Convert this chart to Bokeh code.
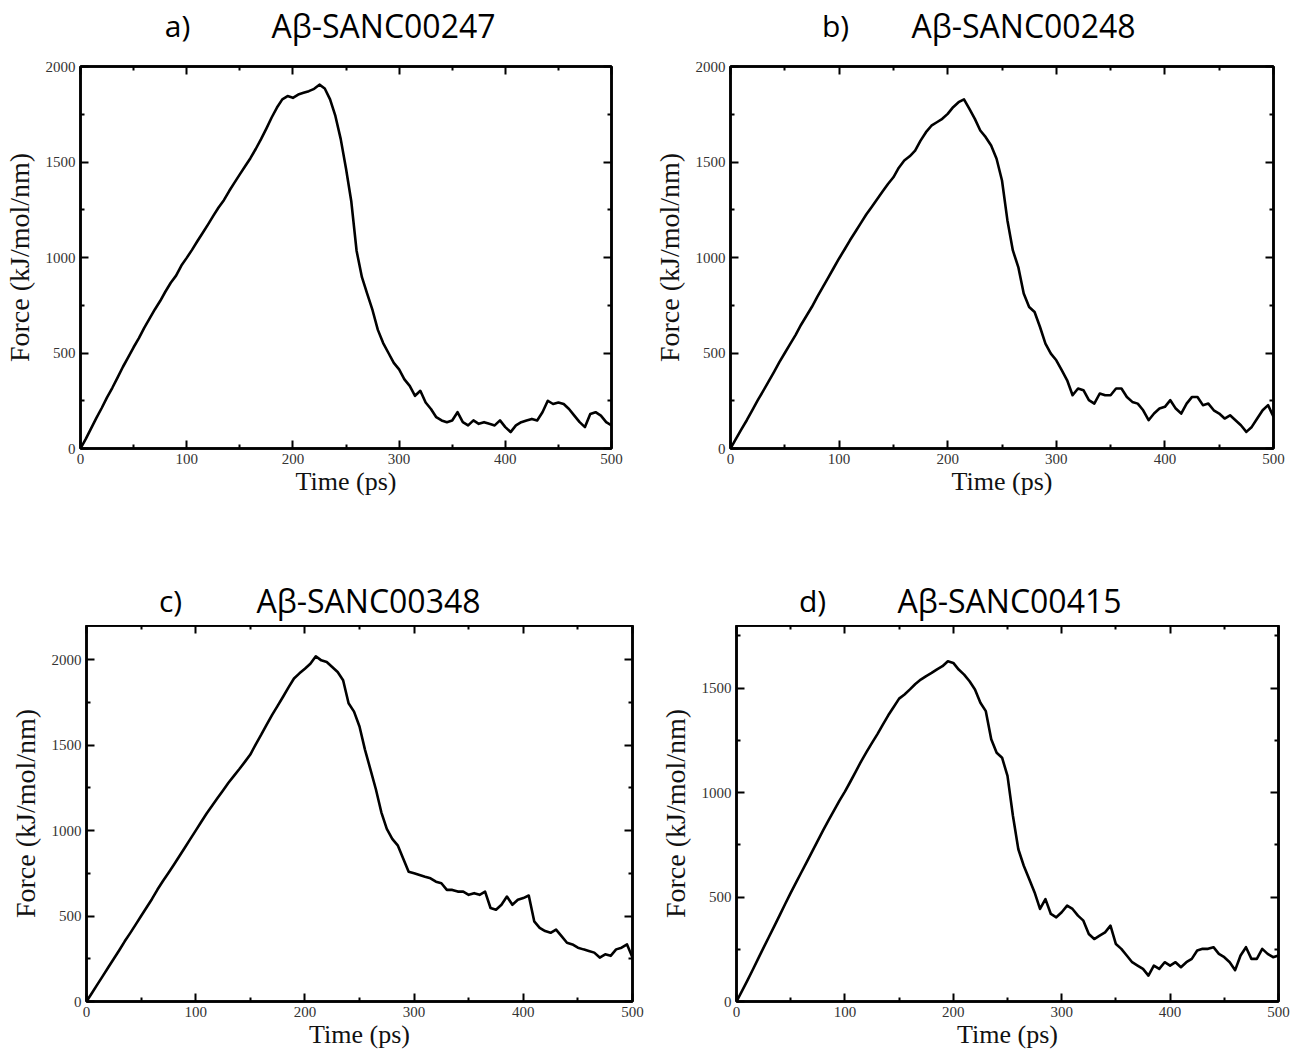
from bokeh.plotting import figure
from bokeh.models import FixedTicker, LinearAxis, Label, Range1d, ColumnDataSource, CustomJSTickFormatter
from bokeh.layouts import column, row
from bokeh.embed import file_html
from bokeh.resources import INLINE

# ---------------- data ----------------
TIME = list(range(0, 505, 5))  # ps

FORCE_247 = [0, 50, 105, 160, 212, 268, 318, 372, 428, 478, 530, 578, 632, 680, 728, 772, 822, 868, 905, 958,
             998, 1040, 1085, 1128, 1172, 1218, 1262, 1300, 1348, 1392, 1435, 1478, 1520, 1568, 1620, 1675, 1733,
             1785, 1828, 1845, 1836, 1853, 1862, 1871, 1883, 1905, 1885, 1828, 1741, 1621, 1466, 1293, 1034, 897,
             810, 724, 621, 552, 500, 448, 414, 362, 328, 276, 302, 241, 207, 164, 147, 138, 147, 190, 138, 121,
             147, 129, 138, 129, 121, 147, 112, 86, 121, 138, 147, 155, 147, 190, 250, 233, 241, 233, 207, 172,
             138, 112, 181, 190, 172, 138, 121]

FORCE_248 = [0, 50, 100, 148, 200, 252, 300, 350, 400, 452, 500, 548, 595, 648, 695, 742, 795, 845, 895, 945,
             995, 1042, 1090, 1135, 1180, 1225, 1265, 1305, 1345, 1385, 1420, 1470, 1508, 1530, 1560, 1612, 1656,
             1690, 1708, 1726, 1752, 1787, 1813, 1828, 1778, 1726, 1665, 1630, 1586, 1517, 1403, 1194, 1037, 950,
             811, 741, 715, 636, 549, 497, 462, 410, 357, 279, 314, 305, 253, 235, 288, 279, 279, 314, 314, 270,
             244, 235, 200, 148, 183, 209, 218, 253, 209, 183, 235, 270, 270, 227, 235, 200, 183, 157, 174, 148,
             122, 87, 113, 157, 200, 227, 166]

FORCE_348 = [0, 50, 100, 150, 200, 250, 300, 352, 400, 450, 500, 550, 600, 655, 705, 752, 800, 850, 900, 950,
             1000, 1050, 1100, 1145, 1190, 1235, 1280, 1320, 1360, 1402, 1445, 1505, 1561, 1620, 1677, 1730, 1783,
             1838, 1890, 1920, 1947, 1976, 2020, 1996, 1986, 1957, 1928, 1880, 1745, 1696, 1609, 1474, 1358, 1242,
             1107, 1010, 952, 914, 837, 759, 750, 740, 730, 721, 701, 692, 653, 653, 643, 643, 624, 634, 624, 643,
             547, 537, 566, 614, 566, 595, 605, 620, 469, 431, 412, 402, 421, 383, 344, 334, 315, 305, 296, 286,
             257, 276, 267, 305, 315, 334, 257]

FORCE_415 = [0, 50, 100, 152, 205, 258, 310, 362, 415, 468, 520, 570, 620, 670, 720, 770, 820, 868, 915, 962,
             1005, 1052, 1100, 1150, 1195, 1238, 1280, 1325, 1370, 1410, 1450, 1470, 1494, 1520, 1541, 1558, 1573,
             1590, 1605, 1629, 1621, 1589, 1565, 1533, 1494, 1430, 1390, 1255, 1191, 1167, 1080, 889, 729, 650,
             586, 522, 443, 490, 419, 403, 427, 459, 443, 411, 387, 323, 299, 315, 331, 363, 275, 252, 220, 188,
             172, 156, 124, 172, 156, 188, 172, 188, 164, 188, 204, 244, 252, 252, 260, 228, 212, 188, 150, 220,
             260, 204, 204, 252, 228, 212, 220]

LETTERS = ["a)", "b)", "c)", "d)"]
NAMES = ["A\u03b2-SANC00247", "A\u03b2-SANC00248", "A\u03b2-SANC00348", "A\u03b2-SANC00415"]
Y_MAX = [2000, 2000, 2200, 1800]
X_TICKS = [0, 100, 200, 300, 400, 500]
X_MINOR = [50, 150, 250, 350, 450]
Y_TICKS = [[0, 500, 1000, 1500, 2000], [0, 500, 1000, 1500, 2000],
           [0, 500, 1000, 1500, 2000], [0, 500, 1000, 1500]]
Y_MINOR = [[250, 750, 1250, 1750], [250, 750, 1250, 1750],
           [250, 750, 1250, 1750], [250, 750, 1250, 1750]]
X_LABEL = "Time (ps)"
Y_LABEL = "Force (kJ/mol/nm)"

SERIF = "Liberation Serif"
SANS = "Open Sans"


def style_axis(ax, show_labels):
    ax.axis_line_color = "black"
    ax.axis_line_width = 2.5
    ax.major_tick_in = 8
    ax.major_tick_out = 0
    ax.minor_tick_in = 4
    ax.minor_tick_out = 0
    ax.major_tick_line_width = 2
    ax.minor_tick_line_width = 2
    ax.major_tick_line_color = "black"
    ax.minor_tick_line_color = "black"
    if show_labels:
        ax.major_label_text_font = SERIF
        ax.major_label_text_font_size = "15px"
        ax.major_label_text_color = "#333333"
        ax.major_label_standoff = 5
        ax.axis_label_text_font = SERIF
        ax.axis_label_text_font_style = "normal"
        ax.axis_label_text_color = "#111111"
    else:
        ax.formatter = CustomJSTickFormatter(code="return ''")
        ax.major_label_standoff = 0
        ax.axis_label = None


def make_title(i, W, H, letter_cx, name_cx, baseline_y):
    t = figure(width=W, height=H, x_range=Range1d(0, W), y_range=Range1d(0, H),
               output_backend="svg", toolbar_location=None, x_axis_location=None, y_axis_location=None,
               min_border_left=0, min_border_right=0, min_border_top=0, min_border_bottom=0)
    t.xgrid.visible = False
    t.ygrid.visible = False
    t.outline_line_color = None
    y_screen = H - baseline_y
    t.add_layout(Label(x=letter_cx, y=y_screen, x_units="screen", y_units="screen",
                       text=LETTERS[i], text_font=SANS, text_font_size="30px", text_align="center",
                       text_baseline="alphabetic", text_color="black"))
    t.add_layout(Label(x=name_cx, y=y_screen, x_units="screen", y_units="screen",
                       text=NAMES[i], text_font=SANS, text_font_size="32px", text_align="center",
                       text_baseline="alphabetic", text_color="black"))
    return t


def make_panel(i, force, W, H, left, right, top, bottom):
    p = figure(width=W, height=H, x_range=Range1d(0, 500), y_range=Range1d(0, Y_MAX[i]),
               output_backend="svg", toolbar_location=None, x_axis_location=None, y_axis_location=None,
               min_border_left=left, min_border_right=right, min_border_top=top, min_border_bottom=bottom)
    p.xgrid.visible = False
    p.ygrid.visible = False
    p.outline_line_color = "black"
    p.outline_line_width = 2.5

    bx = LinearAxis(ticker=FixedTicker(ticks=X_TICKS, minor_ticks=X_MINOR), axis_label=X_LABEL)
    style_axis(bx, True)
    bx.axis_label_text_font_size = "26px"
    bx.axis_label_standoff = 0
    p.add_layout(bx, "below")

    ly = LinearAxis(ticker=FixedTicker(ticks=Y_TICKS[i], minor_ticks=Y_MINOR[i]), axis_label=Y_LABEL)
    style_axis(ly, True)
    ly.axis_label_text_font_size = "28px"
    ly.axis_label_standoff = 8
    p.add_layout(ly, "left")

    ta = LinearAxis(ticker=FixedTicker(ticks=X_TICKS, minor_ticks=X_MINOR))
    style_axis(ta, False)
    p.add_layout(ta, "above")

    ra = LinearAxis(ticker=FixedTicker(ticks=Y_TICKS[i], minor_ticks=Y_MINOR[i]))
    style_axis(ra, False)
    p.add_layout(ra, "right")

    src = ColumnDataSource(dict(t=TIME, f=force))
    p.line("t", "f", source=src, line_color="black", line_width=2.6, line_join="round")
    return p


# title baselines shifted to compensate for the label's own offset
ta_ = make_title(0, 650, 60, 177, 383, 25)
tb_ = make_title(1, 644, 60, 835 - 650, 1023 - 650, 25)
pa = make_panel(0, FORCE_247, 650, 480, 78, 39, 3, 90)
pb = make_panel(1, FORCE_248, 644, 480, 71, 21, 6, 92)

tc_ = make_title(2, 650, 85, 170, 368, 60)
td_ = make_title(3, 644, 85, 812 - 650, 1009 - 650, 60)
pc = make_panel(2, FORCE_348, 650, 426, 86, 18, 0, 48)
pd = make_panel(3, FORCE_415, 644, 426, 86, 16, 0, 50)

layout = column(row(ta_, tb_), row(pa, pb), row(tc_, td_), row(pc, pd))

with open("out.html", "w") as fh_out:
    fh_out.write(file_html(layout, INLINE))
